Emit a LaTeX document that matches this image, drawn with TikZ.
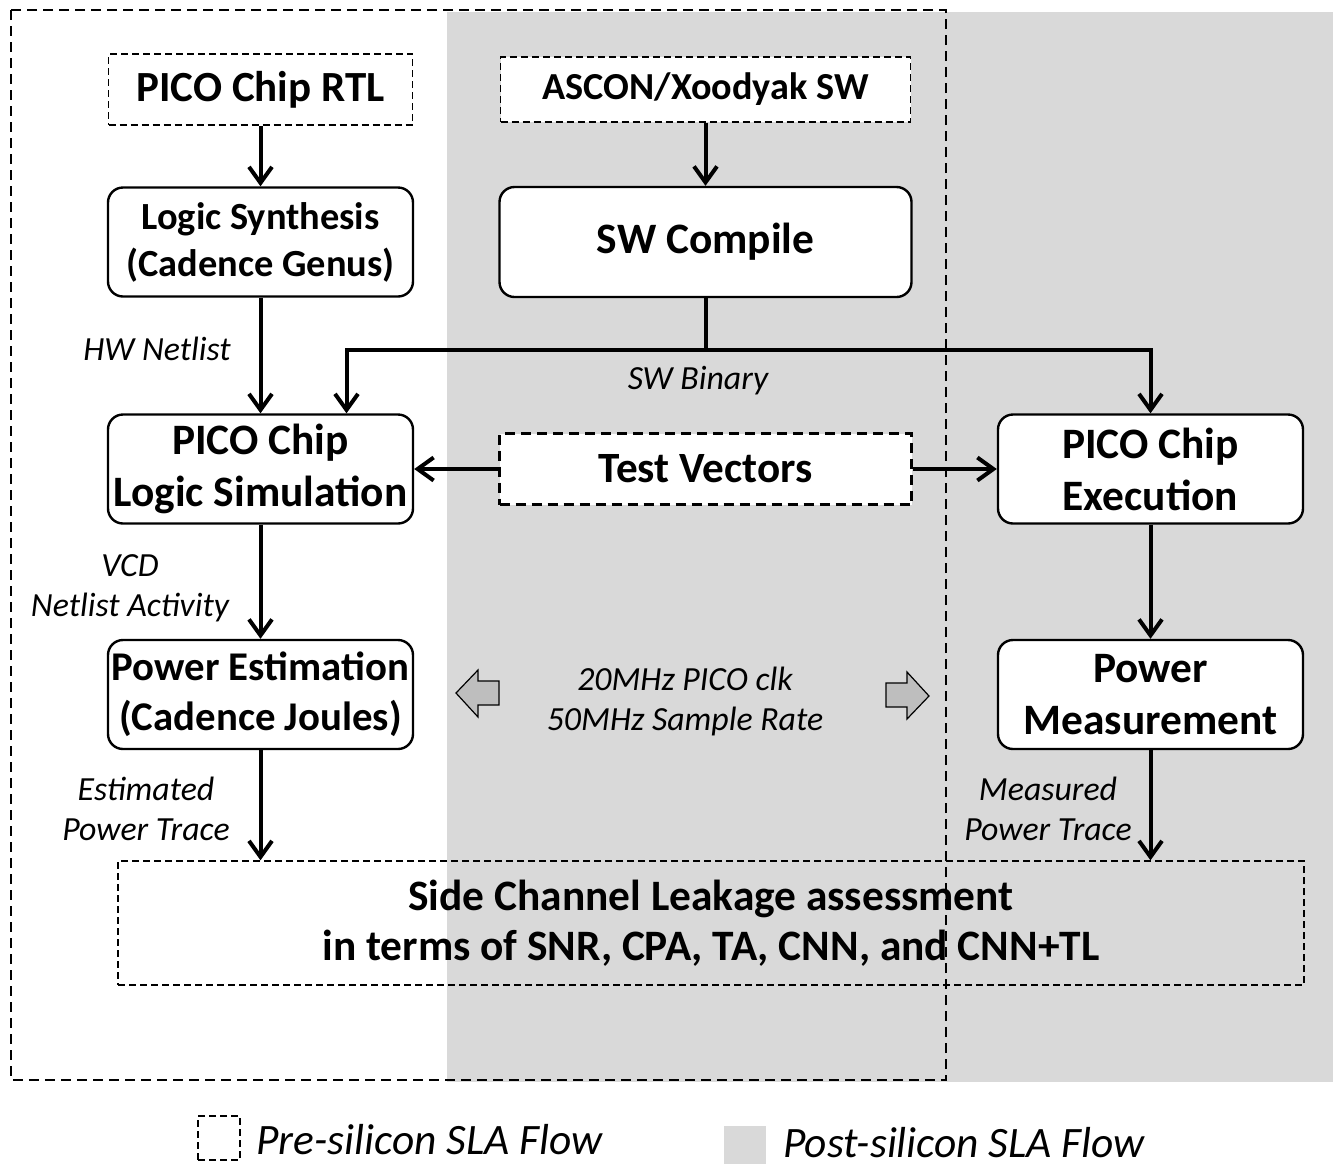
\documentclass[tikz,border=0pt]{standalone}
\usepackage{fontspec}
\setmainfont{Carlito}
\usetikzlibrary{arrows.meta,positioning}

\definecolor{postgray}{RGB}{217,217,217}
\definecolor{blockgray}{RGB}{190,190,190}

\tikzset{
  proc/.style={draw, line width=1.2pt, rounded corners=7.5pt, fill=white, align=center,
    inner sep=1pt, minimum width=152.5pt, minimum height=54.5pt,
    font=\fontsize{21.7}{26}\selectfont\bfseries},
  srcbox/.style={draw, line width=0.8pt, dash pattern=on 3.5pt off 2pt, fill=white,
    align=center, inner sep=1pt, font=\fontsize{21.5}{26}\selectfont\bfseries},
  flow/.style={line width=2pt, -{Straight Barb[length=8pt,width=11.5pt]}},
  lbl/.style={align=center, inner sep=0pt, font=\fontsize{16.9}{20}\selectfont\itshape},
  blockarr/.style={draw, line width=0.6pt, fill=blockgray, line join=miter}
}

\begin{document}
\begin{tikzpicture}[x=0.5pt, y=-0.5pt, node distance=222.5pt]
    \useasboundingbox (0,0) rectangle (1333,1168);
    % post-silicon area and pre-silicon frame
    \fill[postgray] (447,12) rectangle (1333,1082);
    \draw[line width=1pt, dash pattern=on 5pt off 3pt] (11,10) rectangle (946,1080);

    % left column: pre-silicon
    \node (rtl) [srcbox, minimum width=152pt, minimum height=35.5pt] at (260.5,89.5) {PICO Chip RTL};
    \node (synth) [proc, font=\fontsize{19.2}{23.5}\selectfont\bfseries] at (260.5,242) {Logic Synthesis\\(Cadence Genus)};
    \node (sim) [proc] at (260.5,469) {PICO Chip\\Logic Simulation};
    \node (pe) [proc, font=\fontsize{20.4}{25}\selectfont\bfseries] at (260.5,694.5) {Power Estimation\\(Cadence Joules)};

    % middle and right columns
    \node (sw) [srcbox, minimum width=205pt, minimum height=32.5pt, font=\fontsize{19.1}{23}\selectfont\bfseries, right of=rtl] {ASCON/Xoodyak SW};
    \node (swc) [proc, minimum width=206pt, minimum height=55pt, right of=synth] {SW Compile};
    \node (tv) [srcbox, line width=1.5pt, dash pattern=on 5pt off 3pt, minimum width=206pt, minimum height=35.5pt, font=\fontsize{21.6}{26}\selectfont\bfseries, right of=sim] {Test Vectors};
    \node (exec) [proc, right of=tv] {PICO Chip\\Execution};
    \node (pm) [proc, right of=pe, node distance=445pt] {Power\\Measurement};

    \node (sca) [draw, line width=0.7pt, dash pattern=on 3.5pt off 2pt, align=center, minimum width=593pt, minimum height=62pt, font=\fontsize{21.7}{25}\selectfont\bfseries] at (711,923) {Side Channel Leakage assessment\\in terms of SNR, CPA, TA, CNN, and CNN+TL};

    % connectors
    \draw[flow] (rtl) -- (synth);
    \draw[flow] (sw) -- (swc);
    \draw[flow] (synth) -- (sim);
    \draw[line width=2pt] (swc.south) -- ++(0,52) coordinate (split);
    \draw[flow] (split) -| ([xshift=43pt]sim.north);
    \draw[flow] (split) -| (exec.north);
    \draw[flow] (tv) -- (sim);
    \draw[flow] (tv) -- (exec);
    \draw[flow] (sim) -- (pe);
    \draw[flow] (exec) -- (pm);
    \draw[flow] (pe) -- (pe |- sca.north);
    \draw[flow] (pm) -- (pm |- sca.north);

    % labels
    \node (hwnet) [lbl] at (157,349) {HW Netlist};
    \node (swbin) [lbl] at (698,381) {SW Binary};
    \node (vcd) [lbl] at (130,588) {VCD\\Netlist Activity};
    \node (estpt) [lbl] at (146,809) {Estimated\\Power Trace};
    \node (meapt) [lbl] at (1048,809) {Measured\\Power Trace};
    \node (clk) [lbl] at (685,701) {20MHz PICO clk\\50MHz Sample Rate};

    % hollow block arrows
    \draw[blockarr] (456,693) -- (478,670) -- (478,681) -- (499,681) -- (499,705) -- (478,705) -- (478,717) -- cycle;
    \draw[blockarr] (929,696) -- (907,672) -- (907,683) -- (886,683) -- (886,707) -- (907,707) -- (907,719) -- cycle;

    % legend
    \node (legpre) [draw, line width=0.8pt, dash pattern=on 3.5pt off 2pt, minimum width=21pt, minimum height=22pt, inner sep=0pt] at (219,1138) {};
    \node (legpretxt) [anchor=west, inner sep=0pt, font=\fontsize{21.7}{26}\selectfont\itshape] at (256,1140) {Pre-silicon SLA Flow};
    \node (legpost) [fill=postgray, minimum width=21pt, minimum height=19pt, inner sep=0pt] at (745,1145) {};
    \node (legposttxt) [anchor=west, inner sep=0pt, font=\fontsize{21.7}{26}\selectfont\itshape] at (783,1143) {Post-silicon SLA Flow};
\end{tikzpicture}
\end{document}
